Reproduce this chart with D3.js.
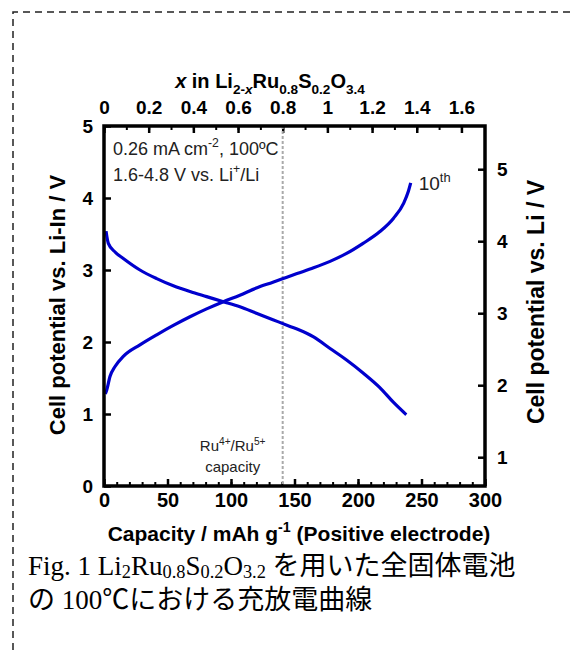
<!DOCTYPE html>
<html>
<head>
<meta charset="utf-8">
<script src="https://cdn.jsdelivr.net/npm/d3@7"></script>
<style>
  body { margin: 0; background: #fff; }
  svg { display: block; }
</style>
</head>
<body>
<svg width="571" height="650"></svg>
<script>
'use strict';

// 10th cycle, capacity (mAh/g) vs cell voltage vs Li-In (V)
var chargeCapacity = [1, 2.1, 4.7, 8.7, 15.2, 28.3, 41.5, 54.6, 67.7, 80.8, 94, 107, 120, 133, 144, 152, 165, 178, 191, 204, 217, 228, 236, 239.6, 241.5];
var chargeVoltage = [1.28, 1.33, 1.52, 1.66, 1.80, 1.96, 2.10, 2.23, 2.35, 2.46, 2.56, 2.65, 2.75, 2.83, 2.90, 2.95, 3.03, 3.12, 3.23, 3.37, 3.53, 3.72, 3.93, 4.09, 4.21];
var dischargeCapacity = [1.6, 3.4, 8.7, 15.2, 28.3, 41.5, 54.6, 67.7, 80.8, 94, 107, 120, 133, 146, 152, 165, 178, 191, 204, 217, 228, 238];
var dischargeVoltage = [3.54, 3.37, 3.25, 3.16, 3.00, 2.88, 2.78, 2.70, 2.63, 2.56, 2.49, 2.40, 2.31, 2.22, 2.18, 2.07, 1.91, 1.75, 1.57, 1.37, 1.16, 0.99];

var capacityTicks = [0, 50, 100, 150, 200, 250, 300];
var capacityMinor = d3.range(0, 301, 10);
var xLiTicks = [0, 0.2, 0.4, 0.6, 0.8, 1, 1.2, 1.4, 1.6];
var xLiMinor = d3.range(0, 17).map(function(i) { return i / 10; });
var voltTicks = [0, 1, 2, 3, 4, 5];
var liVoltTicks = [1, 2, 3, 4, 5];

var capacityPerLi = 175.9;   // mAh/g for one Li
var ruCapacity = 140.7;      // Ru4+/Ru5+ limit (x = 0.8)
var liInOffset = 0.6;        // Li-In vs Li

var MARGIN = { left: 104, top: 126 };
var WIDTH = 381, HEIGHT = 360;
var BOLD = "'Liberation Sans', Arial, sans-serif";

var svg = d3.select('svg');

svg.append('rect').attr('width', 571).attr('height', 650).attr('fill', '#fff');

//dashed frame of the figure
svg.append('path')
    .attr('d', 'M13,650V12H571')
    .attr('fill', 'none')
    .attr('stroke', '#222')
    .attr('stroke-width', 1.5)
    .attr('stroke-dasharray', '7,5');

var canvas = svg.append('g')
    .attr('transform', 'translate(' + MARGIN.left + ',' + MARGIN.top + ')');

var x = d3.scaleLinear().domain([0, 300]).range([0, WIDTH]);
var xLi = d3.scaleLinear().domain([0, 300 / capacityPerLi]).range([0, WIDTH]);
var y = d3.scaleLinear().domain([0, 5]).range([HEIGHT, 0]);
var yLi = d3.scaleLinear().domain([liInOffset, 5 + liInOffset]).range([HEIGHT, 0]);

// text with sub/superscripts
function rich(text, parts, size, subShift) {
    var shift = 0;
    subShift = subShift || 0.28;
    parts.forEach(function(p) {
        var type = p[1] || 'n';
        var target = type.indexOf('sub') === 0 ? size * subShift : type.indexOf('sup') === 0 ? -size * 0.42 : 0;
        var t = text.append('tspan').attr('dy', target - shift).text(p[0]);
        shift = target;
        if (type !== 'n' && type !== 'i') t.attr('font-size', size * 0.68);
        if (type === 'i' || type === 'subi') t.attr('font-style', 'italic');
    });
    return text;
}

function styleAxis(g, size, width) {
    g.select('.domain').remove();
    g.selectAll('line').attr('stroke', '#000').attr('stroke-width', width);
    g.selectAll('text')
        .attr('fill', '#000')
        .attr('font-family', BOLD)
        .attr('font-weight', 'bold')
        .attr('font-size', size);
}

//minor ticks
canvas.append('g')
    .attr('transform', 'translate(0,' + HEIGHT + ')')
    .call(d3.axisBottom(x).tickValues(capacityMinor).tickSize(-4).tickFormat(''))
    .call(styleAxis, 0, 2);
canvas.append('g')
    .call(d3.axisTop(xLi).tickValues(xLiMinor).tickSize(-4).tickFormat(''))
    .call(styleAxis, 0, 2);

//major ticks and labels
canvas.append('g')
    .attr('transform', 'translate(0,' + HEIGHT + ')')
    .call(d3.axisBottom(x).tickValues(capacityTicks).tickSize(-7).tickPadding(7))
    .call(styleAxis, 20, 2.5);
canvas.append('g')
    .call(d3.axisTop(xLi).tickValues(xLiTicks).tickSize(-7).tickPadding(12).tickFormat(d3.format('')))
    .call(styleAxis, 19, 2.5);
canvas.append('g')
    .call(d3.axisLeft(y).tickValues(voltTicks).tickSize(-7).tickPadding(11).tickFormat(d3.format('d')))
    .call(styleAxis, 19, 2.5);
canvas.append('g')
    .attr('transform', 'translate(' + WIDTH + ',0)')
    .call(d3.axisRight(yLi).tickValues(liVoltTicks).tickSize(-7).tickPadding(12).tickFormat(d3.format('d')))
    .call(styleAxis, 19, 2.5);

//Ru4+/Ru5+ capacity line
canvas.append('line')
    .attr('x1', x(ruCapacity)).attr('x2', x(ruCapacity))
    .attr('y1', 0).attr('y2', HEIGHT)
    .attr('stroke', '#aaa')
    .attr('stroke-width', 2)
    .attr('stroke-dasharray', '3,2');

//curves
var line = d3.line()
    .x(function(d) { return x(d[0]); })
    .y(function(d) { return y(d[1]); })
    .curve(d3.curveMonotoneX);

[[chargeCapacity, chargeVoltage], [dischargeCapacity, dischargeVoltage]].forEach(function(s) {
    canvas.append('path')
        .datum(d3.zip(s[0], s[1]))
        .attr('fill', 'none')
        .attr('stroke', '#0000cd')
        .attr('stroke-width', 3.2)
        .attr('stroke-linejoin', 'round')
        .attr('d', line);
});

//frame
canvas.append('rect')
    .attr('width', WIDTH).attr('height', HEIGHT)
    .attr('fill', 'none')
    .attr('stroke', '#000')
    .attr('stroke-width', 3.5);

//annotations inside
var note = canvas.append('g')
    .attr('font-family', BOLD)
    .attr('fill', '#222');
rich(note.append('text').attr('x', 9).attr('y', 29).attr('font-size', 18),
    [['0.26 mA cm'], ['-2', 'sup'], [', 100ºC']], 18);
rich(note.append('text').attr('x', 9).attr('y', 55).attr('font-size', 18),
    [['1.6-4.8 V vs. Li'], ['+', 'sup'], ['/Li']], 18);
rich(note.append('text').attr('x', x(ruCapacity) - 50).attr('y', 325).attr('text-anchor', 'middle').attr('font-size', 15),
    [['Ru'], ['4+', 'sup'], ['/Ru'], ['5+', 'sup']], 15);
note.append('text')
    .attr('x', x(ruCapacity) - 50).attr('y', 346)
    .attr('text-anchor', 'middle')
    .attr('font-size', 15)
    .text('capacity');
rich(note.append('text').attr('x', x(chargeCapacity[chargeCapacity.length - 1]) + 8).attr('y', 64).attr('font-size', 19),
    [['10'], ['th', 'sup']], 19);

//axis titles
var titles = svg.append('g')
    .attr('font-family', BOLD)
    .attr('font-weight', 'bold')
    .attr('fill', '#000');
rich(titles.append('text').attr('x', 270).attr('y', 88).attr('text-anchor', 'middle').attr('font-size', 20),
    [['x', 'i'], [' in Li'], ['2-', 'sub'], ['x', 'subi'], ['Ru'], ['0.8', 'sub'], ['S'], ['0.2', 'sub'], ['O'], ['3.4', 'sub']], 20);
rich(titles.append('text').attr('x', 299).attr('y', 541).attr('text-anchor', 'middle').attr('font-size', 21),
    [['Capacity / mAh g'], ['-1', 'sup'], [' (Positive electrode)']], 21);
titles.append('text')
    .attr('transform', 'translate(65,305) rotate(-90)')
    .attr('text-anchor', 'middle')
    .attr('font-size', 22)
    .text('Cell potential vs. Li-In / V');
titles.append('text')
    .attr('transform', 'translate(544,302) rotate(-90)')
    .attr('text-anchor', 'middle')
    .attr('font-size', 23)
    .text('Cell potential vs. Li / V');

//caption
var caption = svg.append('g')
    .attr('font-family', "'Liberation Serif', 'Times New Roman', 'Noto Sans CJK JP', serif")
    .attr('fill', '#000');
rich(caption.append('text').attr('x', 28).attr('y', 575).attr('font-size', 27),
    [['Fig. 1 Li'], ['2', 'sub'], ['Ru'], ['0.8', 'sub'], ['S'], ['0.2', 'sub'], ['O'], ['3.2', 'sub'], [' を用いた全固体電池']], 27, 0.12);
caption.append('text')
    .attr('x', 28).attr('y', 609)
    .attr('font-size', 27)
    .text('の 100℃における充放電曲線');
</script>
</body>
</html>
